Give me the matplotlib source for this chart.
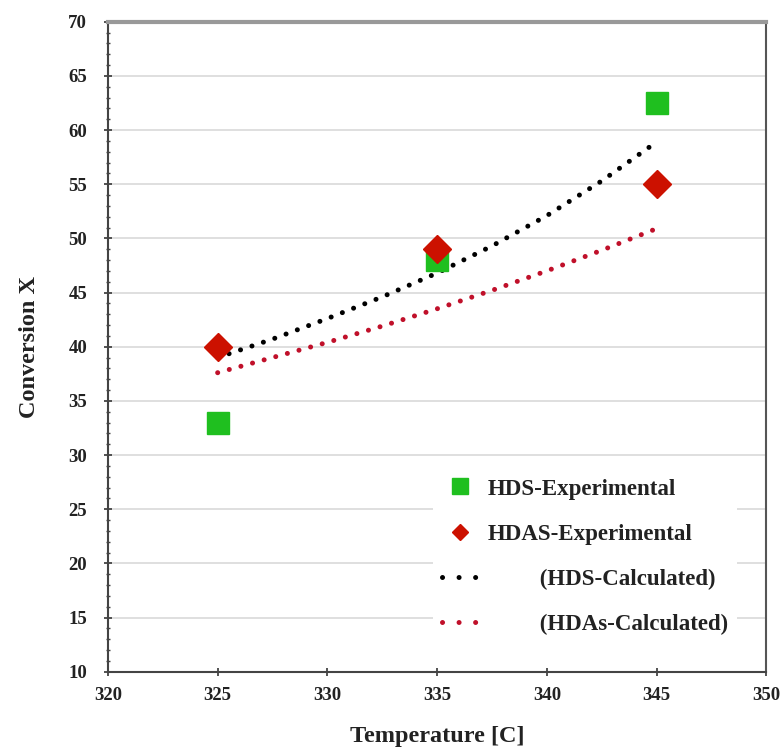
import matplotlib.pyplot as plt
from matplotlib.lines import Line2D
from matplotlib.ticker import MultipleLocator

# measured conversions
temp_exp = [325, 335, 345]
hds_exp = [33.0, 48.0, 62.5]
hdas_exp = [40.0, 49.0, 55.0]

# model curves
temp_calc = [325, 327.5, 330, 332.5, 335, 337.5, 340, 342.5, 345]
hds_calc = [39.0, 40.7, 42.6, 44.6, 46.8, 49.3, 52.1, 55.3, 58.9]
hdas_calc = [37.6, 39.0, 40.4, 41.9, 43.5, 45.2, 47.0, 48.9, 50.9]

plt.rcParams['font.family'] = ['Liberation Serif', 'DejaVu Serif']

green = '#1fbf1f'
red = '#cc1100'
dot_red = '#c0102a'

fig = plt.figure(figsize=(7.82, 7.48), dpi=100)
ax = fig.add_axes([0.138, 0.102, 0.842, 0.869])

dots = dict(linestyle=(0, (0.01, 2.4)), linewidth=3.6, dash_capstyle='round')
ax.plot(temp_calc, hds_calc, color='black', zorder=3, **dots)
ax.plot(temp_calc, hdas_calc, color=dot_red, zorder=3, **dots)
ax.plot(temp_exp, hds_exp, 's', color=green, markersize=16, linestyle='none', zorder=4)
ax.plot(temp_exp, hdas_exp, 'D', color=red, markersize=14, linestyle='none', zorder=4)

ax.set_xlim(320, 350)
ax.set_ylim(10, 70)
ax.xaxis.set_major_locator(MultipleLocator(5))
ax.yaxis.set_major_locator(MultipleLocator(5))
ax.yaxis.set_minor_locator(MultipleLocator(1))
ax.grid(axis='y', color='#d9d9d9', linewidth=1.2)
ax.set_axisbelow(True)

for s in ['left', 'bottom']:
    ax.spines[s].set_color('#444444')
    ax.spines[s].set_linewidth(1.5)
ax.spines['top'].set_color('#999999')
ax.spines['top'].set_linewidth(3)
ax.spines['right'].set_color('#555555')
ax.spines['right'].set_linewidth(1.5)

ax.tick_params(axis='both', which='major', labelsize=13.5, length=6, width=1.3,
               direction='inout', colors='#444444', labelcolor='#222222')
ax.tick_params(axis='x', which='major', pad=8)
ax.tick_params(axis='y', which='major', pad=12)
ax.tick_params(axis='y', which='minor', length=3, width=1, direction='inout', colors='#444444')
for lab in ax.get_xticklabels() + ax.get_yticklabels():
    lab.set_fontweight('bold')

ax.set_xlabel('Temperature [C]', fontsize=17.5, fontweight='bold', labelpad=16, color='#222222')
ax.set_ylabel('Conversion X', fontsize=17.5, fontweight='bold', labelpad=20, color='#222222')

# legend keys: wider dot spacing than the curves
leg_dots = dict(linestyle=(0, (0.01, 3.3)), linewidth=3.6, dash_capstyle='round')
handles = [
    Line2D([], [], marker='s', color=green, markersize=11.5, linestyle='none'),
    Line2D([], [], marker='D', color=red, markersize=8.5, linestyle='none'),
    Line2D([], [], color='black', **leg_dots),
    Line2D([], [], color=dot_red, **leg_dots),
]
labels = ['HDS-Experimental', 'HDAS-Experimental',
          '         (HDS-Calculated)', '         (HDAs-Calculated)']
leg = ax.legend(handles, labels, loc='upper left', bbox_to_anchor=(0.476, 0.329),
                frameon=True, facecolor='white', edgecolor='none', framealpha=1,
                fancybox=False, prop={'weight': 'bold', 'size': 16.5},
                labelspacing=1.05, handlelength=1.6, handletextpad=0.4)
for t in leg.get_texts():
    t.set_color('#222222')

fig.savefig('out.png', dpi=100)
